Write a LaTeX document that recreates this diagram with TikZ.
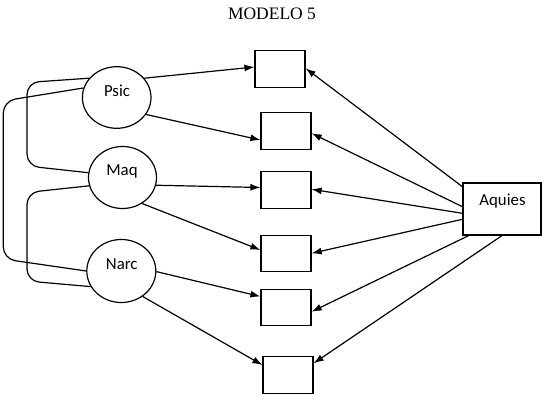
\documentclass[tikz,border=0pt]{standalone}
\usepackage{fontspec}
\setmainfont{Liberation Serif}
\newfontfamily\calib{Carlito}
\usetikzlibrary{shapes.geometric,arrows.meta,calc}
\begin{document}
\begin{tikzpicture}[x=1pt,y=-1pt,
  lat/.style={draw,ellipse,line width=1.2pt,inner sep=0pt},
  obs/.style={draw,rectangle,line width=1.2pt,minimum width=50pt,minimum height=36.5pt,inner sep=0pt},
  lbl/.style={anchor=base,inner sep=0pt,font=\calib\fontsize{16.8}{18}\selectfont},
  arr/.style={-{Latex[length=10pt,width=7pt]},line width=1.2pt},
  cov/.style={line width=1.2pt,rounded corners=12pt}]
\useasboundingbox (0,0) rectangle (548,403);
\node[anchor=base,inner sep=0pt,font=\fontsize{17.5}{20}\selectfont] (title) at (272,20) {MODELO 5};
% latent variables
\node[lat,minimum width=68.6pt,minimum height=61.6pt] (psic) at (116.7,97.5) {};
\node[lat,minimum width=68pt,minimum height=62pt] (maq) at (122.5,177.5) {};
\node[lat,minimum width=69pt,minimum height=63pt] (narc) at (121.3,271) {};
\node[lbl] (psict) at (117,96.5) {Psic};
\node[lbl] (maqt) at (122,176) {Maq};
\node[lbl] (narct) at (121.7,269.5) {Narc};
% observed boxes
\node[obs] (b1) at (280,69) {};
\node[obs] (b2) at (286,131) {};
\node[obs] (b3) at (286,190) {};
\node[obs] (b4) at (286,253.5) {};
\node[obs] (b5) at (286,307.5) {};
\node[obs] (b6) at (288,375) {};
\node[obs,minimum width=78pt,minimum height=52pt] (aq) at (502,209) {};
\node[lbl] (aqt) at (502.5,206) {Aquies};
% factor loadings
\draw[arr] (psic.35) -- ($(b1.west)+(0,-2)$);
\draw[arr] (psic.-30) -- ($(b2.west)+(0,9)$);
\draw[arr] (maq.-13) -- ($(b3.west)+(0,-2.5)$);
\draw[arr] (maq.-53) -- ($(b4.west)+(0,-3.5)$);
\draw[arr] (narc.-1) -- ($(b5.west)+(0,-11)$);
\draw[arr] (narc.-50) -- ($(b6.west)+(0,-10)$);
% Aquies
\draw[arr] ($(aq.west)+(0,-22.3)$) -- ($(b1.east)+(0,-0.7)$);
\draw[arr] ($(aq.west)+(0,-2.3)$) -- ($(b2.east)+(0,2.3)$);
\draw[arr] ($(aq.west)+(0,4.3)$) -- ($(b3.east)+(0,-0.7)$);
\draw[arr] ($(aq.west)+(0,10.3)$) -- ($(b4.east)+(0,-0.2)$);
\draw[arr] ($(aq.south west)+(6.3,0)$) -- ($(b5.east)+(0,4.2)$);
\draw[arr] (aq.south) -- ($(b6.east)+(0,-11.7)$);
% covariances
\draw[cov] (psic.145) -- (27,82.5) -- (27,166) -- (maq.172);
\draw[cov] (psic.164) -- (3.3,101) -- (3.3,259) -- (narc.180);
\draw[cov] (maq.-166) -- (27,192.5) -- (27,281) -- (narc.-153);
\end{tikzpicture}
\end{document}
